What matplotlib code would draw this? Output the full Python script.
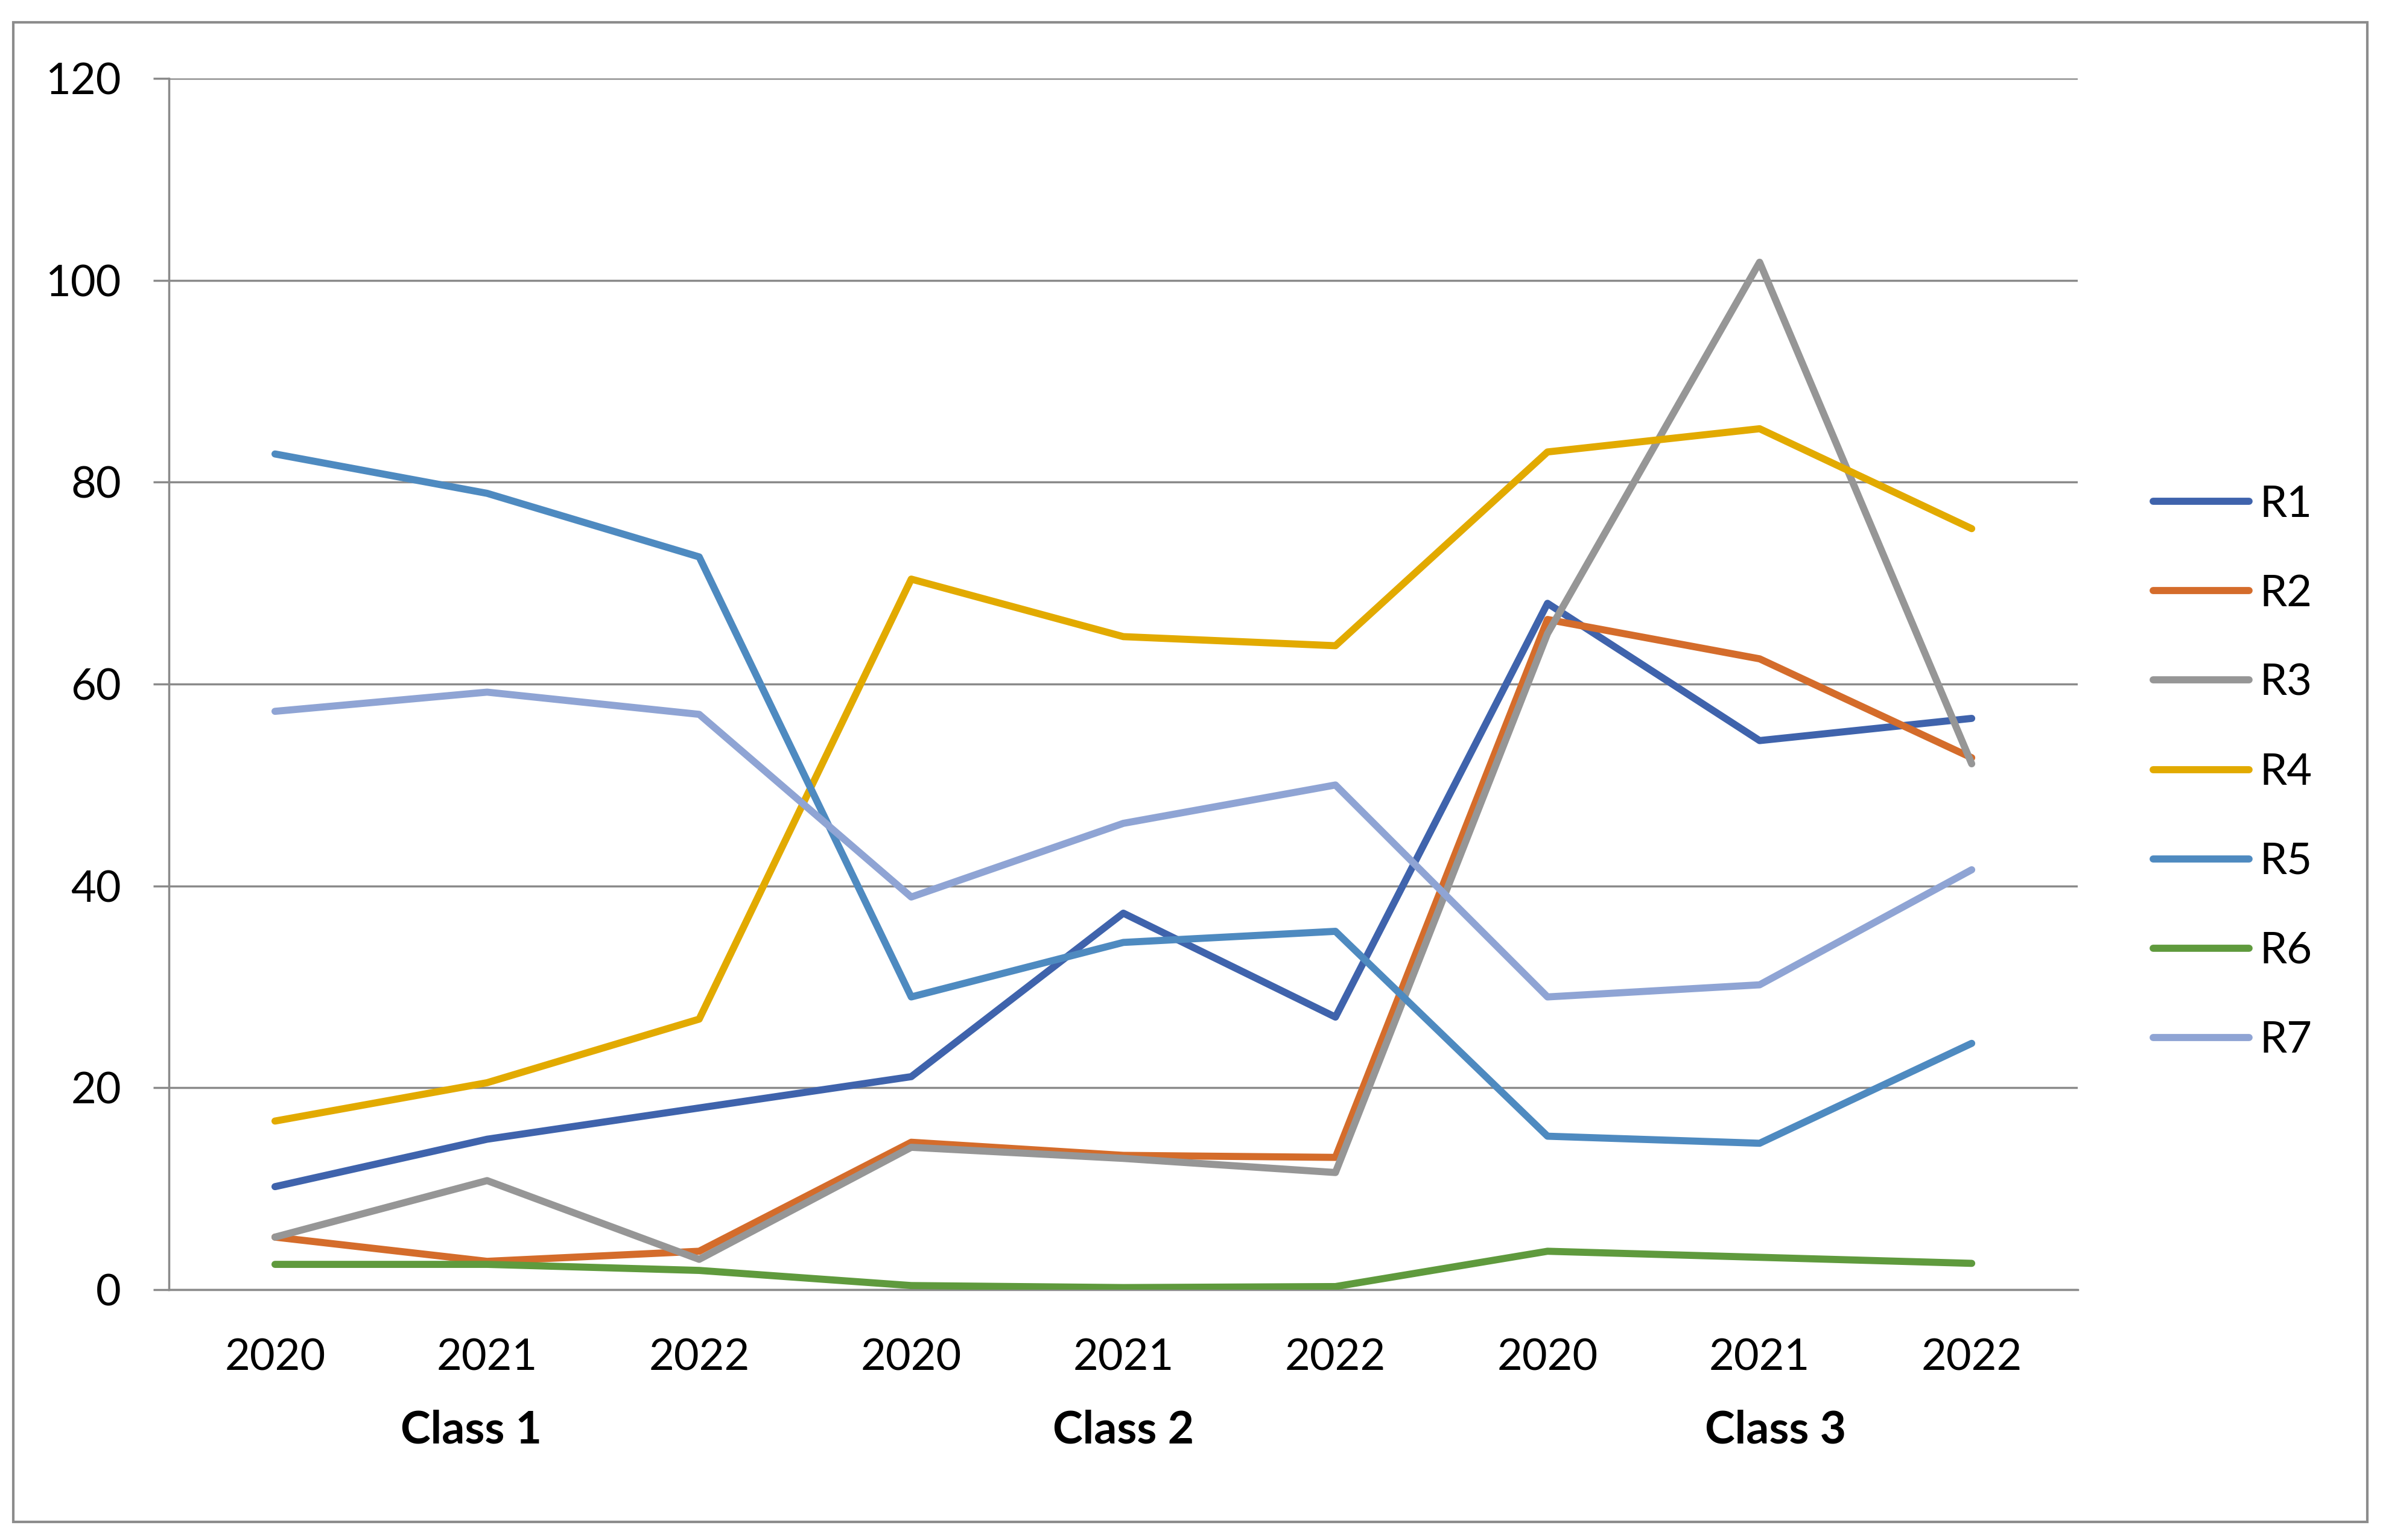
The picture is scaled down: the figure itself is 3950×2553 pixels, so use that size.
import matplotlib.pyplot as plt
import numpy as np

plt.rcParams['font.family'] = ['Lato', 'DejaVu Sans']

years = ["2020", "2021", "2022", "2020", "2021", "2022", "2020", "2021", "2022"]
classes = ["Class 1", "Class 2", "Class 3"]
series_names = ["R1", "R2", "R3", "R4", "R5", "R6", "R7"]

r1 = [10.2, 14.9, 18.0, 21.1, 37.3, 27.0, 68.0, 54.4, 56.6]
r2 = [5.2, 2.8, 3.8, 14.6, 13.3, 13.1, 66.4, 62.5, 52.7]
r3 = [5.2, 10.8, 3.0, 14.1, 13.0, 11.6, 65.0, 101.8, 52.1]
r4 = [16.7, 20.5, 26.8, 70.4, 64.7, 63.8, 83.0, 85.3, 75.4]
r5 = [82.8, 78.9, 72.6, 29.0, 34.4, 35.5, 15.2, 14.5, 24.4]
r6 = [2.5, 2.5, 1.9, 0.4, 0.2, 0.3, 3.8, 3.2, 2.6]
r7 = [57.3, 59.2, 57.0, 38.9, 46.2, 50.0, 29.0, 30.2, 41.6]

colors = ["#3F63AC", "#D46C2B", "#969696", "#E2AA00", "#4E8AC0", "#5F9A3D", "#8FA4D4"]
grid_col = "#8A8A8A"

fig = plt.figure(figsize=(39.5, 25.53), dpi=100)
ax = fig.add_axes([0.0709, 0.1626, 0.8010, 0.7864])

x = np.arange(len(years))
for name, vals, c in zip(series_names, [r1, r2, r3, r4, r5, r6, r7], colors):
    ax.plot(x, vals, color=c, lw=8.5, label=name,
            solid_capstyle='round', solid_joinstyle='round', zorder=3)

ax.set_xlim(-0.5, len(years) - 0.5)
ax.set_ylim(0, 120)
ax.set_yticks(np.arange(0, 121, 20))
ax.yaxis.grid(True, color=grid_col, lw=2.5)
ax.set_axisbelow(True)

for side in ['top', 'right']:
    ax.spines[side].set_visible(False)
ax.spines['left'].set_color(grid_col)
ax.spines['left'].set_linewidth(2.5)
ax.spines['bottom'].set_color(grid_col)
ax.spines['bottom'].set_linewidth(2.5)

ax.tick_params(axis='y', length=19, width=2.5, color=grid_col, pad=38, labelsize=52)
ax.set_xticks(x)
ax.set_xticklabels(years)
ax.tick_params(axis='x', length=0, pad=58, labelsize=52)

# group labels below the years (Excel spreads them a little)
for i, cl in enumerate(classes):
    ax.text(3 * i + 1 + (i - 1) * 0.075, -0.116, cl, transform=ax.get_xaxis_transform(),
            ha='center', va='center', fontsize=54, fontweight='bold')

fig.legend(loc='center left', bbox_to_anchor=(0.9035, 0.4985), frameon=False,
           fontsize=52, handlelength=2.2, handletextpad=0.25, labelspacing=1.15,
           borderpad=0, borderaxespad=0)

# outer chart border
border = plt.Rectangle((0.0056, 0.0118), 0.9878, 0.9737, transform=fig.transFigure,
                       fill=False, edgecolor="#8C8C8C", lw=3)
fig.patches.append(border)

fig.savefig("out.png", dpi=100)
